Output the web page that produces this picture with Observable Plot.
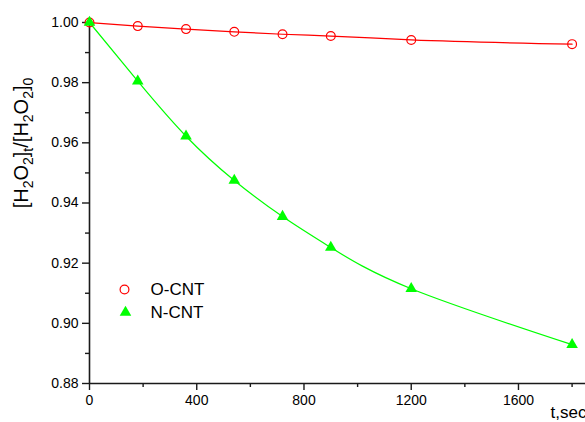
<!DOCTYPE html>
<html><head><meta charset="utf-8">
<script src="https://cdn.jsdelivr.net/npm/d3@7"></script>
<script src="https://cdn.jsdelivr.net/npm/@observablehq/plot@0.6"></script>
<style>
body{margin:0;background:#fff}
#chart{position:relative;width:585px;height:422px}
</style>
</head><body><div id="chart"></div>
<script>
const times = [0, 180, 360, 540, 720, 900, 1200, 1800];
const oCNT = [1.0000, 0.9988, 0.9978, 0.9969, 0.9961, 0.9955, 0.9942, 0.9928];
const nCNT = [1.0000, 0.9805, 0.9622, 0.9475, 0.9355, 0.9252, 0.9115, 0.8929];
const seriesNames = ["O-CNT", "N-CNT"];
const xMajorTicks = [0, 400, 800, 1200, 1600];
const xMinorTicks = [200, 600, 1000, 1400, 1800];
const yMajorTicks = [0.88, 0.90, 0.92, 0.94, 0.96, 0.98, 1.00];
const yMinorTicks = [0.89, 0.91, 0.93, 0.95, 0.97, 0.99];
const xAxisLabel = "t,sec";

const rows = times.map((t, i) => ({t, o: oCNT[i], n: nCNT[i]}));
const RED = "#ff0000", GREEN = "#00ff00", INK = "#1a1a1a";

const plot = Plot.plot({
  width: 585, height: 422,
  marginLeft: 89, marginRight: 0, marginTop: 22, marginBottom: 39,
  style: {fontFamily: "'Liberation Sans', Arial, sans-serif", fontSize: "14px", color: "#000", background: "#fff"},
  x: {domain: [0, 1850]},
  y: {domain: [0.88, 1.0]},
  marks: [
    Plot.axisY({ticks: yMajorTicks, tickSize: 7, tickPadding: 4, tickFormat: d3.format(".2f"), label: null, stroke: INK, strokeWidth: 1.4}),
    Plot.axisY({ticks: yMinorTicks, tickSize: 4, text: null, label: null, stroke: INK, strokeWidth: 1.4}),
    Plot.axisX({ticks: xMajorTicks, tickSize: 7, tickPadding: 5, tickFormat: d3.format("d"), label: null, stroke: INK, strokeWidth: 1.4}),
    Plot.axisX({ticks: xMinorTicks, tickSize: 4, text: null, label: null, stroke: INK, strokeWidth: 1.4}),
    Plot.ruleX([0], {y1: 0.88, y2: 1.0007, stroke: INK, strokeWidth: 1.6}),
    Plot.ruleY([0.88], {x1: 0, x2: 1850, stroke: INK, strokeWidth: 1.6}),
    Plot.line(rows, {x: "t", y: "o", stroke: RED, strokeWidth: 1.2, curve: "monotone-x"}),
    Plot.line(rows, {x: "t", y: "n", stroke: GREEN, strokeWidth: 1.2, curve: "natural"}),
    Plot.dot(rows, {x: "t", y: "o", r: 4.4, stroke: RED, strokeWidth: 1.2, fill: "none"}),
    Plot.dot(rows, {x: "t", y: "n", r: 4.3, symbol: "triangle", fill: GREEN, stroke: "none"}),
    // legend
    Plot.dot([seriesNames[0]], {frameAnchor: "top-left", dx: 35, dy: 267, r: 4.4, stroke: RED, strokeWidth: 1.2, fill: "none"}),
    Plot.dot([seriesNames[1]], {frameAnchor: "top-left", dx: 36, dy: 290, r: 4.3, symbol: "triangle", fill: GREEN, stroke: "none"}),
    Plot.text([seriesNames[0]], {text: d => d, frameAnchor: "top-left", dx: 61, dy: 267.5, textAnchor: "start", lineAnchor: "middle", fontSize: 17, fill: "#000"}),
    Plot.text([seriesNames[1]], {text: d => d, frameAnchor: "top-left", dx: 61, dy: 290.5, textAnchor: "start", lineAnchor: "middle", fontSize: 17, fill: "#000"}),
    Plot.text([xAxisLabel], {text: d => d, frameAnchor: "bottom-right", dx: 1, dy: 34, textAnchor: "end", lineAnchor: "bottom", fontSize: 17, fill: "#000"})
  ]
});
document.getElementById("chart").appendChild(plot);

// rotated y-axis label with subscripts
const svg = d3.select(plot);
const lab = svg.append("text")
  .attr("transform", "translate(28,143) rotate(-90)")
  .attr("font-family", "'Liberation Sans', Arial, sans-serif")
  .attr("font-size", 20)
  .attr("fill", "#000");
const parts = [["[H", 0], ["2", 1], ["O", 0], ["2", 1], ["]", 0], ["t", 1], ["/[H", 0], ["2", 1], ["O", 0], ["2", 1], ["]", 0], ["0", 1]];
let prevSub = false;
parts.forEach(([s, sub]) => {
  const ts = lab.append("tspan").text(s);
  if (sub) { ts.attr("font-size", 14); if (!prevSub) ts.attr("dy", 5); }
  else if (prevSub) ts.attr("dy", -5);
  prevSub = !!sub;
});
</script>
</body></html>
